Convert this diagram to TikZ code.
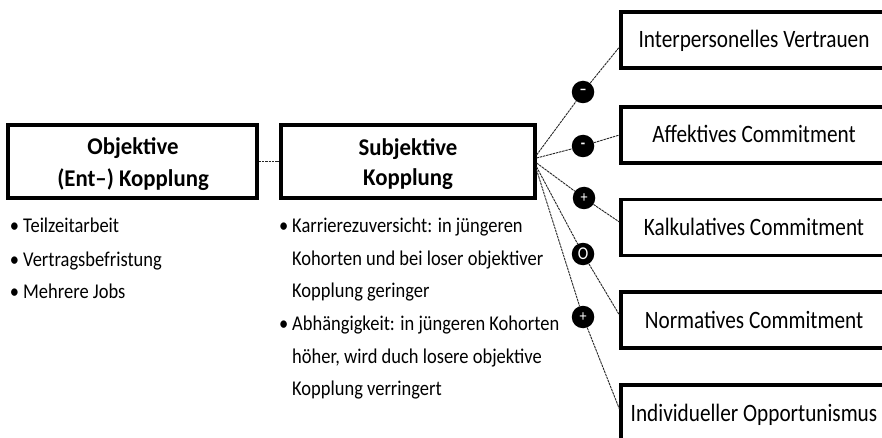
\documentclass[tikz,border=0pt]{standalone}
\usepackage{fontspec}
\setmainfont{Carlito}[FakeStretch=0.88]
\newfontfamily\boxfont{Carlito}[FakeStretch=0.85]
\newfontfamily\titlefont{Carlito}[FakeStretch=0.95]
\newcommand\bulletmark{\llap{\textbullet\hspace{4pt}}}
\begin{document}
\begin{tikzpicture}[x=1pt,y=-1pt,
  box/.style={draw=black,line width=3.2pt,rectangle,inner sep=0pt},
  leftbox/.style={box,minimum width=249pt,minimum height=73pt},
  outbox/.style={box,minimum width=266pt,minimum height=56pt,font=\boxfont\fontsize{25}{28}\selectfont,text height=16pt,text depth=0pt},
  title/.style={anchor=base,inner sep=0pt,font=\titlefont\fontsize{24}{30}\selectfont\bfseries},
  btext/.style={anchor=base west,inner sep=0pt,font=\fontsize{21}{24}\selectfont},
  sign/.style={circle,fill=black,minimum size=22.5pt,inner sep=0pt,text=white,font=\fontsize{16}{16}\selectfont},
  conn/.style={line width=0.9pt,dash pattern=on 2.5pt off 0.8pt,black!85}
]
\useasboundingbox (0,0) rectangle (882,438);
\fill[white] (0,0) rectangle (882,438);
\clip (0,0) rectangle (882,438);

% left boxes
\node[leftbox] (obj) at (132.5,161.5) {};
\node[leftbox,minimum width=254pt] (subj) at (408,161.5) {};
\node[title] (objt1) at (133,155) {Objektive};
\node[title] (objt2) at (133,187) {(Ent\textendash) Kopplung};
\node[title] (subt1) at (408,156) {Subjektive};
\node[title] (subt2) at (408,186) {Kopplung};

% right boxes
\node[outbox] (b1) at (754,40) {Interpersonelles Vertrauen};
\node[outbox] (b2) at (754,135) {Affektives Commitment};
\node[outbox] (b3) at (754,227.5) {Kalkulatives Commitment};
\node[outbox] (b4) at (754,320) {Normatives Commitment};
\node[outbox] (b5) at (754,413) {Individueller Opportunismus};

% signs
\node[sign] (c1) at (583,92) {\bfseries\textendash};
\node[sign] (c2) at (583,146) {\bfseries -};
\node[sign] (c3) at (584,198) {+};
\node[sign] (c4) at (583,254) {\fontsize{18}{18}\selectfont O};
\node[sign] (c5) at (583,317) {+};

% connectors
\draw[conn] (obj.east) -- (subj.west);
\draw[conn] (subj.east |- 0,155) -- (c1) -- (b1.west |- 0,47);
\draw[conn] (subj.east |- 0,158) -- (c2) -- (b2.west |- 0,135);
\draw[conn] (subj.east |- 0,163) -- (c3) -- (b3.west |- 0,222);
\draw[conn] (subj.east |- 0,167) -- (c4) -- (b4.west |- 0,315);
\draw[conn] (subj.east |- 0,170) -- (c5) -- (b5.west |- 0,409);

% bullet lists
\node[btext] (o1) at (23,233) {\bulletmark Teilzeitarbeit};
\node[btext] (o2) at (23,266) {\bulletmark Vertragsbefristung};
\node[btext] (o3) at (23,298) {\bulletmark Mehrere Jobs};
\node[btext] (s1) at (292,232) {\bulletmark Karrierezuversicht: in jüngeren};
\node[btext] (s2) at (292,265) {Kohorten und bei loser objektiver};
\node[btext] (s3) at (292,297) {Kopplung geringer};
\node[btext] (s4) at (292,330) {\bulletmark Abhängigkeit: in jüngeren Kohorten};
\node[btext] (s5) at (292,363) {höher, wird duch losere objektive};
\node[btext] (s6) at (292,395) {Kopplung verringert};
\end{tikzpicture}
\end{document}
